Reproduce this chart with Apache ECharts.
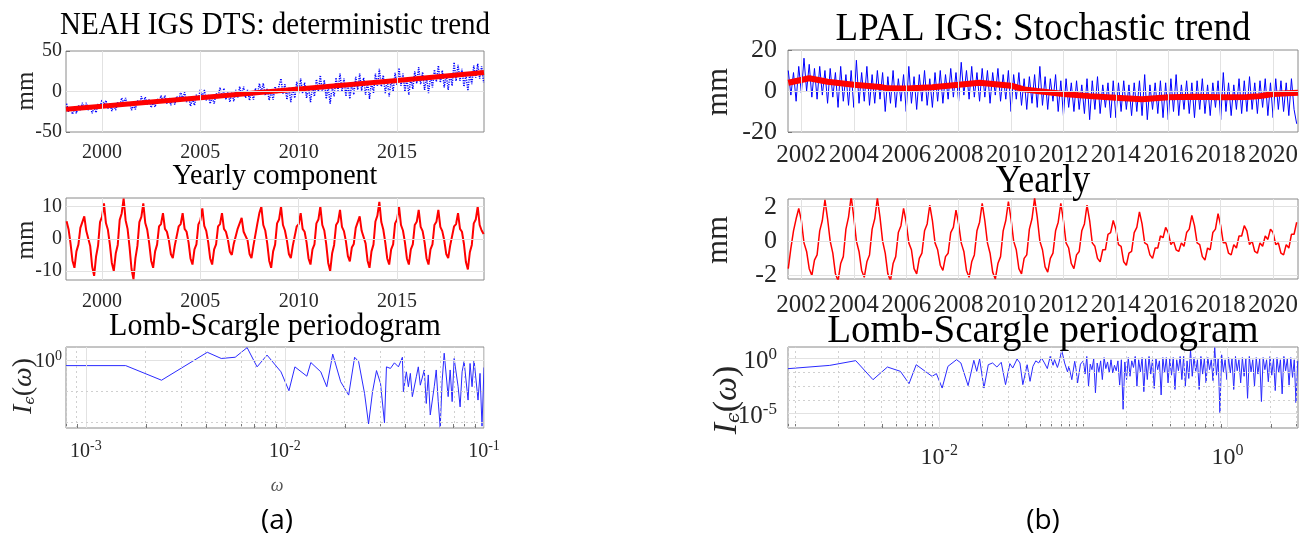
<!DOCTYPE html>
<html><head><meta charset="utf-8">
<script src="https://cdn.jsdelivr.net/npm/echarts@6/dist/echarts.min.js"></script>
<style>html,body{margin:0;padding:0;background:#fff}#c{width:1306px;height:542px}</style>
</head><body><div id="c"></div>
<script>
// ---------------- DATA ----------------
// (a) NEAH IGS DTS, sampled every 0.1 yr from 1998.2
const neahStart = 1998.2, neahStep = 0.1;
const neahBlue = [
-15,-25,-19,-28,-21,-27,-17,-23,
-14,-21,-14,-23,-17,-27,-20,-26,-15,-20,
-10,-17,-11,-21,-15,-24,-17,-23,-13,-18,
-8,-14,-8,-18,-13,-23,-17,-22,-11,-16,
-6,-13,-7,-16,-10,-20,-13,-19,-9,-14,
-5,-12,-5,-15,-8,-17,-9,-16,-6,-12,
0,-9,-1,-13,-6,-18,-9,-17,-4,-10,
3,-6,2,-11,-4,-15,-7,-15,-2,-8,
5,-6,4,-10,0,-13,-1,-12,2,-8,
6,-5,6,-8,2,-11,0,-10,4,-4,
10,0,10,-5,4,-11,0,-10,6,-2,
-2,16,-3,9,-10,5,-13,5,-8,12,
-2,16,-2,11,-8,5,-13,6,-6,15,
0,20,-1,14,-9,6,-15,7,-6,17,
1,22,0,16,-6,10,-9,11,-4,18,
2,22,1,17,-4,11,-9,12,-2,22,
7,28,6,20,-2,14,-6,15,0,23,
8,29,7,22,0,16,-4,17,3,25,
10,30,9,24,2,18,-2,19,5,27,
12,32,11,26,5,21,2,22,7,36,
13,33,13,28,6,21,1,22,9,32,
17,34,16,31,11];
const neahTrendYears = [1998.17, 2000, 2005, 2010, 2015, 2019.42];
const neahTrend      = [-22, -18.2, -7.6, 3.0, 13.6, 23.5];
const neahYearly = [
5.5,3.0,-1.4,-6.8,-9.0,-3.9,-1.8,3.4,
3.8,7,2.5,2.0,-2.2,-8.6,-11.5,-5.4,-2.1,5.2,
6.8,11,4.9,2.8,-1.7,-7.5,-10,-4.5,-1.9,5.9,
7.9,12.5,5.8,3.1,-2.5,-9.3,-12.5,-6.0,-2.2,5.2,
6.8,11,4.9,2.8,-1.4,-6.8,-9,-3.9,-1.8,3.9,
4.6,8,3.1,2.2,-0.5,-4.7,-6,-2.1,-1.5,3.9,
4.6,8,3.1,2.2,-1.1,-6.1,-8,-3.3,-1.7,4.5,
5.7,9.5,4.0,2.5,-1.1,-6.1,-8,-3.3,-1.7,3.9,
4.6,8,3.1,2.2,-0.2,-4.0,-5,-1.5,-1.4,3.2,
3.4,6.5,2.2,1.9,-0.5,-4.7,-6,-2.1,-1.5,4.8,
8.0,10,4.3,2.6,-1.4,-6.8,-9,-3.9,-1.8,4.8,
6.0,10,4.3,2.6,-0.5,-4.7,-6,-2.1,-1.5,3.9,
4.6,8,3.1,2.2,-1.1,-6.1,-8,-3.3,-1.7,4.8,
6.0,10,4.3,2.6,-1.7,-7.5,-10,-4.5,-1.9,4.3,
5.3,9,3.7,2.4,-0.8,-5.4,-7,-2.7,-1.6,3.4,
3.8,7,2.5,2.0,-1.4,-6.8,-9,-3.9,-1.8,5.4,
7.2,11.5,5.2,2.9,-1.1,-6.1,-8,-3.3,-1.7,4.8,
6.0,10,4.3,2.6,-1.1,-6.1,-8,-3.3,-1.7,4.3,
5.3,9,3.7,2.4,-1.1,-6.1,-8,-3.3,-1.7,4.3,
5.3,9,3.7,2.4,-0.5,-4.7,-6,-2.1,-1.5,3.9,
4.6,8,3.1,2.2,-1.6,-7.2,-9.5,-4.2,-1.9,4.8,
6.0,10,4.3,2.6,1.5];
// Lomb-Scargle (a): log10(omega), log10(I)
const lsA_w = [-3.1,-2.80,-2.62,-2.39,-2.32,-2.25,-2.19,-2.14,-2.09,-2.02,-1.98,-1.95,-1.89,-1.87,-1.82,-1.79,-1.76,-1.72,-1.68,-1.65,-1.63,-1.60,-1.58,-1.56,-1.54,-1.52,-1.50,-1.49,-1.47,-1.45,-1.43,-1.41,-1.405,-1.39,-1.38,-1.37,-1.36,-1.34,-1.33,-1.32,-1.30,-1.29,-1.28,-1.27,-1.25,-1.24,-1.23,-1.22,-1.21,-1.20,-1.18,-1.17,-1.16,-1.15,-1.13,-1.12,-1.11,-1.10,-1.08,-1.07,-1.06,-1.05,-1.03,-1.02,-1.01,-1.0];
const lsA_I = [-0.18,-0.18,-0.65,0.25,0.05,0.09,0.40,-0.22,0.16,-0.38,-0.99,-0.22,-0.52,-0.08,-0.38,-0.86,0.19,-0.70,-1.13,0.09,-0.05,-1.08,-2.06,-1.02,-0.34,-0.75,-2.02,-0.22,-0.27,-0.09,-0.22,0.09,-1.02,-0.38,-0.86,-0.43,-1.18,-0.54,-0.22,-0.81,-0.32,-1.40,-0.48,-1.77,-0.86,-0.32,-1.34,-2.17,-0.65,0.22,-1.18,-0.32,-1.34,0.05,-0.86,-1.51,-0.38,-0.05,-1.29,-0.11,-0.86,0.0,-1.29,-0.43,-2.13,-0.24];

// (b) LPAL IGS, sampled every 0.1 yr from 2001.5
const lpalStart = 2001.5, lpalStep = 0.1;
const lpalBlue = [
10,-2,9,-5,12,
-1,16,0,13,-3,11,-4,12,-2,10,
-6,11,-3,9,-8,12,-5,8,-7,10,
-8,15,-6,9,-5,12,-7,8,-6,10,
-4,9,-10,7,-6,10,-8,6,-5,8,
-10,12,-6,7,-9,8,-5,10,-7,6,
-8,9,-5,10,-6,8,-4,11,-3,9,
-5,14,-2,10,-4,12,-3,9,-5,11,
-3,10,-6,9,-2,11,-5,8,-4,10,
-10,8,-4,9,-7,6,-9,7,-6,8,
-8,12,-7,7,-9,6,-5,8,-10,5,
-12,6,-8,4,-10,5,-9,3,-11,6,
-14,5,-9,7,-11,3,-8,4,-13,5,
-13,4,-10,5,-9,3,-12,4,-10,5,
-12,8,-14,3,-9,4,-11,5,-13,4,
-14,6,-10,8,-12,3,-9,5,-11,4,
-13,5,-9,6,-11,3,-12,4,-8,5,
-14,9,-10,4,-12,3,-9,6,-11,5,
-10,7,-9,4,-11,5,-8,6,-12,4,
-13,6,-9,5,-10,4,-12,6,-9,-16];
const lpalTrendYears = [2001.5,2002.3,2003,2004,2005,2005.3,2006,2007,2008,2008.8,2009.5,2010,2010.5,2011,2012,2013,2014,2015,2016,2017,2018,2019,2019.5,2020,2020.95];
const lpalTrend      = [4,6.2,4.5,3,2,1.3,1.2,1.8,3,4,3.2,2.6,0.8,0,-1.5,-2.5,-3.3,-4,-3,-2.8,-3,-2.9,-2.5,-1.5,-0.8];
const lpalYearly = [
-1.6,-0.4,0.6,1.3,1.9,
1.2,-0.1,-0.6,-1.6,-2.0,-1.1,-0.8,0.6,1.2,2.4,
1.3,0.0,-0.7,-1.9,-2.3,-1.3,-0.9,0.7,1.4,2.6,
1.4,0.0,-0.6,-1.7,-2.1,-1.2,-0.8,0.7,1.3,2.5,
1.4,0.0,-0.7,-1.9,-2.3,-1.3,-0.9,0.5,0.9,1.9,
1.1,-0.1,-0.5,-1.6,-1.9,-1.0,-0.7,0.6,1.0,2.1,
1.2,-0.1,-0.5,-1.4,-1.7,-0.9,-0.7,0.5,0.8,1.8,
1.0,-0.1,-0.6,-1.7,-2.1,-1.2,-0.8,0.6,1.1,2.2,
1.2,-0.1,-0.7,-1.8,-2.2,-1.3,-0.9,0.6,1.2,2.3,
1.3,0.0,-0.5,-1.6,-1.9,-1.0,-0.8,0.7,1.3,2.5,
1.4,0.0,-0.5,-1.5,-1.8,-1.0,-0.7,0.6,1.1,2.2,
1.2,-0.1,-0.4,-1.3,-1.6,-0.8,-0.6,0.6,1.0,2.1,
1.2,-0.1,-0.3,-1.0,-1.2,-0.5,-0.5,0.4,0.5,1.2,
0.7,-0.2,-0.3,-1.2,-1.4,-0.7,-0.6,0.5,0.8,1.7,
1.0,-0.1,-0.2,-0.8,-1.0,-0.4,-0.4,0.3,0.2,0.8,
0.5,-0.2,0.0,-0.5,-0.6,-0.1,-0.3,0.5,0.7,1.5,
0.9,-0.1,-0.2,-0.9,-1.1,-0.4,-0.5,0.5,0.7,1.6,
0.9,-0.1,-0.1,-0.7,-0.8,-0.2,-0.4,0.3,0.3,0.9,
0.6,-0.2,0.0,-0.6,-0.7,-0.1,-0.3,0.3,0.1,0.7,
0.5,-0.2,-0.1,-0.7,-0.8,-0.2,-0.4,0.4,0.4,1.1];
// Lomb-Scargle (b): log10(omega), log10(I); sparse low-frequency part
const lsB_w = [-3.05,-2.76,-2.58,-2.46,-2.36,-2.27,-2.21,-2.16,-2.05,-2.02,-1.98,-1.94,-1.88,-1.85,-1.80,-1.76,-1.74,-1.72,-1.69,-1.66,-1.63,-1.60,-1.57,-1.54,-1.51,-1.49,-1.46,-1.44,-1.42,-1.39,-1.37,-1.35,-1.33,-1.31,-1.29,-1.27,-1.25,-1.23,-1.21,-1.20,-1.18,-1.17,-1.15,-1.13,-1.11,-1.10,-1.08,-1.06,-1.05,-1.04,-1.02,-1.01];
const lsB_I = [-0.91,-0.61,-0.18,-1.91,-0.76,-1.15,-2.27,-0.55,-1.61,-1.36,-2.67,-0.70,-0.09,-0.39,-2.45,-0.15,-1.15,-0.03,-2.67,-0.55,-0.39,-0.76,-0.33,-2.36,-0.45,-0.85,-0.03,-0.39,-2.36,-0.55,-2.06,-0.70,-0.2,-0.39,0.06,-0.39,-0.9,0.21,-0.6,-0.09,-0.8,-0.39,0.76,-0.39,-1.2,-0.7,-1.91,-0.24,-1.0,-2.21,-0.5,-0.39];
// dense high-frequency part, sampled every 0.012 in log10(omega) from -1.0
const lsB_denseStart = -1.0, lsB_denseStep = 0.012;
const lsB_denseI = [
-0.2,-1.4,0.2,-2.5,-0.5,-1.0,0.0,-3.1,-0.4,-1.2,
-0.2,-1.9,0.1,-0.9,-0.3,-1.3,-0.1,-1.3,-0.6,-1.1,
-0.2,-2.4,-0.1,-4.6,-0.3,-1.9,0.1,-1.6,-0.2,-0.8,
0.2,-2.5,-0.1,-1.2,0.1,-3.0,0.0,-1.9,0.2,-1.4,
-0.1,-2.7,0.0,-1.0,-0.2,-3.3,0.1,-1.3,0.1,-2.2,
0.0,-1.5,0.1,-2.8,-0.1,-1.1,0.2,-1.9,0.2,-2.5,
-0.2,-1.8,0.8,-1.6,0.1,-1.2,-0.1,-2.8,0.2,-1.4,
0.0,-2.2,0.1,-1.0,-0.1,-2.0,1.0,-1.5,0.0,-4.9,
0.35,-1.2,-0.1,-1.9,0.1,-1.3,0.0,-2.8,0.2,-1.1,
-0.1,-2.2,0.1,-1.6,0.0,-3.6,0.2,-1.2,-0.1,-2.5,
0.1,-1.4,0.0,-3.9,0.1,-1.0,-0.1,-2.1,0.2,-1.5,
0.0,-2.9,0.1,-1.3,-0.1,-3.2,0.2,-1.1,0.0,-2.4,
0.1,-1.7,-0.1,-4.0,-0.2];

// tick labels
const neahYearTicks = [2000, 2005, 2010, 2015];
const lpalYearTicks = [2002,2004,2006,2008,2010,2012,2014,2016,2018,2020];
const a1YTicks = [-50, 0, 50], a2YTicks = [-10, 0, 10], a3YTicks = [0];
const b1YTicks = [-20, 0, 20], b2YTicks = [-2, 0, 2], b3YTicks = [-5, 0];
const a3XTicks = [-3, -2, -1], b3XTicks = [-2, 0];
const a3YMinorGrid = [-1, -2];
const b3YMinorGrid = [-1.25, -2.5, -3.75];

// ---------------- BUILD ----------------
const F = 'Liberation Serif';
const INK = '#262626';
const seq = (s, st, vals) => vals.map((v, i) => [+(s + i * st).toFixed(3), v]);
const pairs = (xs, ys) => xs.map((x, i) => [x, ys[i]]);
function minorLogs(d0, d1, lo, hi) {
  const out = [];
  for (let d = d0; d <= d1; d++) for (let k = 1; k <= 9; k++) {
    const v = d + Math.log10(k);
    if (v >= lo && v <= hi) out.push(+v.toFixed(4));
  }
  return out;
}
const a3Minor = minorLogs(-4, -1, -3.1, -1.0).filter(v => a3XTicks.indexOf(v) < 0);
const b3Minor = minorLogs(-4, 0, -3.05, 0.49).filter(v => b3XTicks.indexOf(v) < 0);

const GRID = '#e2e2e2';
function gridLines(xi, xs, ys, xsDot, ysDot) {
  const data = [];
  xs.forEach(v => data.push({ xAxis: v }));
  ys.forEach(v => data.push({ yAxis: v }));
  (xsDot || []).forEach(v => data.push({ xAxis: v, lineStyle: { type: [2, 3], color: '#d0d0d0' } }));
  (ysDot || []).forEach(v => data.push({ yAxis: v, lineStyle: { type: [2, 3], color: '#d0d0d0' } }));
  return {
    type: 'line', xAxisIndex: xi, yAxisIndex: xi, data: [], z: 1, silent: true,
    markLine: { silent: true, symbol: ['none', 'none'], label: { show: false }, animation: false,
      lineStyle: { color: GRID, type: 'solid', width: 1 }, data: data }
  };
}
function ax(i, min, max, ticks, minorT) {
  return { gridIndex: i, type: 'value', min: min, max: max,
    axisLine: { show: false, onZero: false }, splitLine: { show: false },
    axisTick: { inside: true, length: 4, customValues: ticks.concat(minorT || []), lineStyle: { color: '#777' } },
    axisLabel: { show: false } };
}
const gridBoxes = [
  { left: 66, top: 51, width: 418, height: 81 },
  { left: 66, top: 198, width: 418, height: 82 },
  { left: 66, top: 347, width: 418, height: 81 },
  { left: 788, top: 50, width: 510, height: 82 },
  { left: 788, top: 199, width: 510, height: 80 },
  { left: 788, top: 347, width: 510, height: 81 }
];
const grids = gridBoxes.map(g => Object.assign({ show: true, borderColor: '#8a8a8a', borderWidth: 1, backgroundColor: 'transparent' }, g));

const xAxes = [
  ax(0, 1998.17, 2019.42, neahYearTicks),
  ax(1, 1998.17, 2019.42, neahYearTicks),
  ax(2, -3.1, -1.0, a3XTicks, a3Minor),
  ax(3, 2001.49, 2020.95, lpalYearTicks),
  ax(4, 2001.49, 2020.95, lpalYearTicks),
  ax(5, -3.05, 0.49, b3XTicks, b3Minor)
];
const yAxes = [
  ax(0, -50, 50, a1YTicks),
  ax(1, -12.8, 12.7, a2YTicks),
  ax(2, -2.19, 0.42, a3YTicks),
  ax(3, -20, 20, b1YTicks),
  ax(4, -2.2, 2.45, b2YTicks),
  ax(5, -6.3, 1.06, b3YTicks)
];

const lineS = (i, data, color, width, type, z) => ({
  type: 'line', xAxisIndex: i, yAxisIndex: i, data: data, showSymbol: false, symbol: 'none',
  sampling: false, clip: true, z: z || 2, silent: true,
  lineStyle: { color: color, width: width, type: type || 'solid' }
});

const series = [
  gridLines(0, neahYearTicks, [0]),
  lineS(0, seq(neahStart, neahStep, neahBlue), '#0000ff', 1.5, [1.2, 1.2], 2),
  lineS(0, pairs(neahTrendYears, neahTrend), '#ff0000', 5, 'solid', 3),
  gridLines(1, neahYearTicks, a2YTicks),
  lineS(1, seq(neahStart, neahStep, neahYearly), '#ff0000', 2),
  gridLines(2, a3XTicks, a3YTicks, a3Minor, a3YMinorGrid),
  lineS(2, pairs(lsA_w, lsA_I), '#2a2aff', 1),
  gridLines(3, lpalYearTicks, [0]),
  lineS(3, seq(lpalStart, lpalStep, lpalBlue), '#0000ff', 1, 'solid', 2),
  lineS(3, pairs(lpalTrendYears, lpalTrend), '#ff0000', 6, 'solid', 3),
  gridLines(4, lpalYearTicks, b2YTicks),
  lineS(4, seq(lpalStart, lpalStep, lpalYearly), '#ff0000', 1.5),
  gridLines(5, b3XTicks, b3YTicks, b3Minor, b3YMinorGrid),
  lineS(5, pairs(lsB_w, lsB_I).concat(seq(lsB_denseStart, lsB_denseStep, lsB_denseI)), '#2a2aff', 1)
];

function txt(text, x, y, fs, opt) {
  opt = opt || {};
  return { type: 'text', x: x, y: y, rotation: opt.rot || 0, scaleY: opt.sy || 1, z: 10, silent: true,
    style: { text: text, fontFamily: opt.ff || F, fontSize: fs, fill: opt.color || '#000',
      fontStyle: opt.italic ? 'italic' : 'normal', align: opt.align || 'center', verticalAlign: 'middle', rich: opt.rich } };
}
const R = Math.PI / 2;
function ieLabel(x, y, fs) {
  return txt('{i|I}{e|ϵ}{p|(}{i|ω}{p|)}', x, y, fs, { rot: R, rich: {
    i: { fontFamily: F, fontStyle: 'italic', fontSize: fs, fill: INK },
    e: { fontFamily: 'DejaVu Serif', fontStyle: 'italic', fontSize: Math.round(fs * 0.55), fill: INK, padding: [Math.round(fs * 0.45), 0, 0, 0] },
    p: { fontFamily: F, fontSize: fs, fill: INK } } });
}
const graphic = [
  txt('NEAH IGS DTS: deterministic trend', 275, 26, 29, { sy: 1.08 }),
  txt('Yearly component', 275, 176, 28, { sy: 1.08 }),
  txt('Lomb-Scargle periodogram', 275, 326, 30, { sy: 1.08 }),
  txt('LPAL IGS: Stochastic trend', 1043, 30, 37, { sy: 1.08 }),
  txt('Yearly', 1043, 182, 36, { sy: 1.1 }),
  txt('Lomb-Scargle periodogram', 1043, 331, 39, { sy: 1.05 }),
  txt('mm', 26, 91, 25, { rot: R, color: INK }),
  txt('mm', 26, 240, 25, { rot: R, color: INK }),
  txt('mm', 719, 92, 31, { rot: R, color: INK }),
  txt('mm', 719, 240, 31, { rot: R, color: INK }),
  ieLabel(24, 386, 28),
  ieLabel(727, 400, 34),
  txt('ω', 277, 486, 18, { italic: true, color: '#555' }),
  txt('ω', 1046, 497, 20, { italic: true, color: '#555' }),
  { type: 'rect', z: 11, silent: true, shape: { x: 1030, y: 491, width: 34, height: 16 }, style: { fill: '#fff' } },
  txt('(a)', 277, 521, 28, { ff: 'Open Sans' }),
  txt('(b)', 1043, 521, 28, { ff: 'Open Sans' })
];

const chart = echarts.init(document.getElementById('c'), null, { renderer: 'canvas' });
chart.setOption({
  animation: false, backgroundColor: '#fff',
  grid: grids, xAxis: xAxes, yAxis: yAxes, series: series, graphic: graphic
});

// ---- tick labels placed through the axes' own scales ----
function expRich(fs) {
  return { b: { fontFamily: F, fontSize: fs, fill: INK },
           s: { fontFamily: F, fontSize: Math.round(fs * 0.68), fill: INK, padding: [0, 0, Math.round(fs * 0.6), 0] } };
}
function expText(v) { return '{b|10}{s|' + (v < 0 ? '-' + Math.abs(v) : String(v)) + '}'; }
function xLabels(gi, vals, yc, fs, exp) {
  return vals.map(v => txt(exp ? expText(v) : String(v), chart.convertToPixel({ xAxisIndex: gi }, v), yc, fs,
    { color: INK, rich: exp ? expRich(fs) : undefined }));
}
function yLabels(gi, vals, xr, fs, exp, dy) {
  return vals.map(v => txt(exp ? expText(v) : String(v), xr, chart.convertToPixel({ yAxisIndex: gi }, v) + (dy || 0), fs,
    { color: INK, align: 'right', rich: exp ? expRich(fs) : undefined }));
}
const tickLabels = [].concat(
  xLabels(0, neahYearTicks, 153, 20),
  xLabels(1, neahYearTicks, 302, 20),
  xLabels(2, a3XTicks, 452, 20, true),
  xLabels(3, lpalYearTicks, 155, 25),
  xLabels(4, lpalYearTicks, 305, 25),
  xLabels(5, b3XTicks, 458, 24, true),
  yLabels(0, a1YTicks, 62, 20),
  yLabels(1, a2YTicks, 62, 20),
  yLabels(2, a3YTicks, 62, 20, true, 2),
  yLabels(3, b1YTicks, 777, 26),
  yLabels(4, b2YTicks, 777, 26),
  yLabels(5, b3YTicks, 777, 25, true, 3)
);
chart.setOption({ graphic: graphic.concat(tickLabels) });
</script></body></html>
